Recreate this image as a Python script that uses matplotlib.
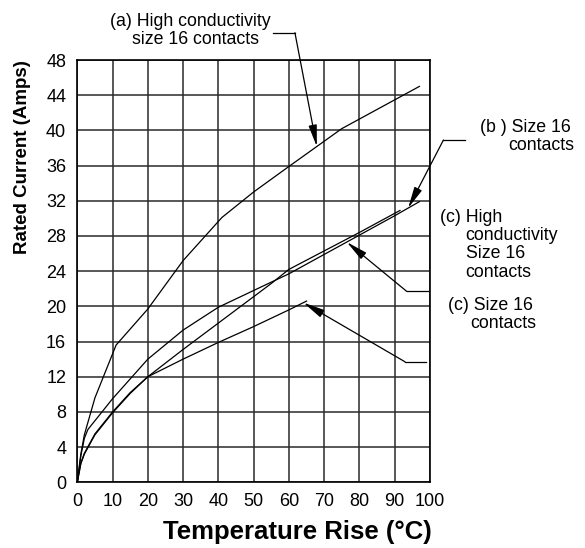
import numpy as np
import matplotlib
matplotlib.use("Agg")
import matplotlib.pyplot as plt

plt.rcParams['font.family'] = ['Liberation Sans', 'DejaVu Sans']

# ------------------------------------------------------
# DATA
# ------------------------------------------------------
# (a) High conductivity size 16 contacts
a_temp = [0, 1, 2, 5, 8, 11, 20, 30, 41, 50, 60, 75, 97]
a_amps = [0, 3.2, 5.4, 9.6, 12.6, 15.6, 19.7, 25.2, 30.1, 33.0, 35.9, 40.2, 45.0]

# (b) Size 16 contacts
b_temp = [0, 1, 2, 3, 10, 20, 30, 40, 50, 60, 70, 80, 90, 97]
b_amps = [0, 3.0, 5.0, 6.0, 9.5, 14.0, 17.3, 19.9, 21.8, 23.7, 25.9, 28.1, 30.3, 31.9]

# (c) High conductivity size 16 contacts
chc_temp = [0, 1, 2, 5, 10, 15, 20, 30, 40, 50, 55, 60, 70, 80, 91.5]
chc_amps = [0, 2.2, 3.3, 5.5, 8.0, 10.2, 12.0, 15.1, 18.1, 21.1, 22.6, 24.2, 26.3, 28.4, 30.9]

# (c) Size 16 contacts
c_temp = [0, 1, 2, 5, 10, 15, 20, 30, 40, 50, 60, 65]
c_amps = [0, 2.1, 3.2, 5.4, 7.9, 10.1, 12.0, 14.0, 15.9, 17.7, 19.6, 20.6]

x_ticks = list(range(0, 101, 10))
y_ticks = list(range(0, 49, 4))

W, H = 585, 548
fig = plt.figure(figsize=(W / 100, H / 100), dpi=100)
ax = fig.add_axes([77.3 / W, 1 - 482.3 / H, (430 - 77.3) / W, (482.3 - 60) / H])

for xs, ys in [(a_temp, a_amps), (b_temp, b_amps), (chc_temp, chc_amps), (c_temp, c_amps)]:
    ax.plot(xs, ys, color="black", lw=0.9)

ax.set_xlim(0, 100)
ax.set_ylim(0, 48)
ax.set_xticks(x_ticks)
ax.set_yticks(y_ticks)
ax.tick_params(length=0, labelsize=13, pad=8)
ax.grid(True, color="#2a2a2a", lw=1.1)
ax.set_axisbelow(True)
for sp in ax.spines.values():
    sp.set_linewidth(1.2)

fig.text(297 / W, 1 - 532 / H, "Temperature Rise (°C)", ha="center", va="center",
         fontsize=18.5, fontweight="bold")
fig.text(23 / W, 1 - 157 / H, "Rated Current (Amps)", ha="center", va="center",
         rotation=90, fontsize=13.5, fontweight="bold")

# ------------------------------------------------------
# LEADERS: (curve, x of arrow tip, corner, end of horizontal)
# ------------------------------------------------------
leaders = [
    (a_temp, a_amps, 67.9, (61.7, 51.1), 55.5),
    (b_temp, b_amps, 93.8, (103.8, 38.9), 109.9),
    (b_temp, b_amps, 76.4, (93.4, 21.7), 99.5),
    (c_temp, c_amps, 64.1, (92.9, 13.7), 99.0),
]
for xs, ys, tx, corner, hx in leaders:
    ty = np.interp(tx, xs, ys)
    ax.plot([hx, corner[0]], [corner[1], corner[1]], color="black", lw=0.9, clip_on=False)
    ax.annotate("", xy=(tx, ty), xytext=corner, annotation_clip=False,
                arrowprops=dict(arrowstyle="-|>,head_length=1.3,head_width=0.25",
                                color="black", lw=0.9, shrinkA=0, shrinkB=0))

# ------------------------------------------------------
# LABELS (pixel layout)
# ------------------------------------------------------
fs = 12.8
labels = [
    (190, 22, "(a) High conductivity", "center"),
    (195.5, 40, "size 16 contacts", "center"),
    (480, 127, "(b ) Size 16", "left"),
    (508, 145, "contacts", "left"),
    (440, 218, "(c) High", "left"),
    (465.7, 236, "conductivity", "left"),
    (465.7, 254, "Size 16", "left"),
    (465.7, 272, "contacts", "left"),
    (448, 305, "(c) Size 16", "left"),
    (470.7, 324, "contacts", "left"),
]
for px, py, s, ha in labels:
    fig.text(px / W, 1 - py / H, s, ha=ha, va="center", fontsize=fs)

fig.savefig("out.png", dpi=100)
